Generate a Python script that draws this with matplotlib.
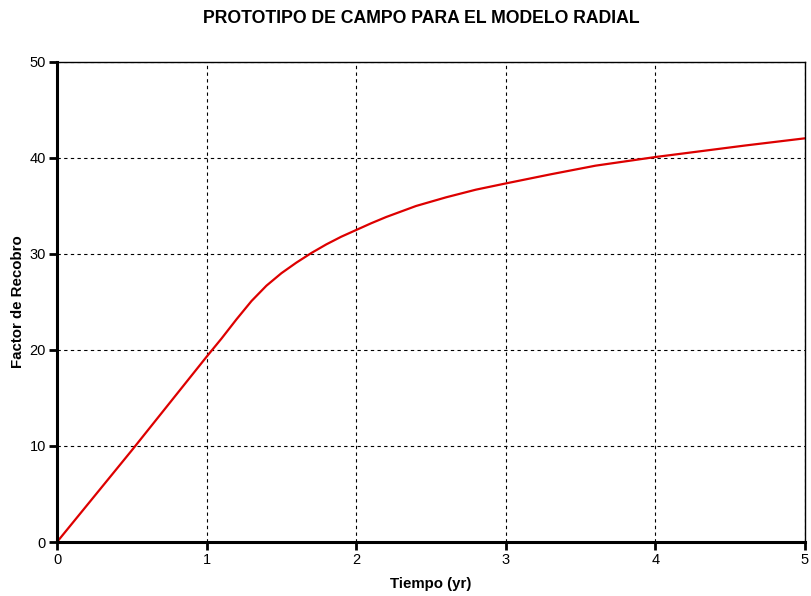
import matplotlib
matplotlib.use('Agg')
import matplotlib.pyplot as plt

plt.rcParams['font.family'] = ['Liberation Sans', 'DejaVu Sans']

# recovery factor vs time
tiempo = [0, 0.5, 1.0, 1.1, 1.2, 1.3, 1.4, 1.5, 1.6, 1.7, 1.8, 1.9, 2.0,
          2.1, 2.2, 2.4, 2.6, 2.8, 3.0, 3.3, 3.6, 4.0, 4.3, 4.6, 5.0]
recobro = [0, 9.55, 19.3, 21.2, 23.2, 25.1, 26.7, 28.0, 29.1, 30.1, 31.0,
           31.8, 32.5, 33.2, 33.85, 35.0, 35.9, 36.7, 37.35, 38.3, 39.2,
           40.1, 40.7, 41.3, 42.05]

xticks = [0, 1, 2, 3, 4, 5]
yticks = [0, 10, 20, 30, 40, 50]

fig = plt.figure(figsize=(8.11, 5.96), dpi=100)
ax = fig.add_axes([0.0703, 0.0906, 0.9223, 0.8054])

ax.plot(tiempo, recobro, color='#dd0000', lw=1.6)

ax.set_xlim(0, 5)
ax.set_ylim(0, 50)
ax.set_xticks(xticks)
ax.set_yticks(yticks)
ax.grid(True, color='black', linestyle=(0, (3, 3)), lw=0.8)

# thick left/bottom axis, thin frame on top/right
for s in ['left', 'bottom']:
    ax.spines[s].set_linewidth(2.2)
for s in ['top', 'right']:
    ax.spines[s].set_linewidth(1.0)

ax.tick_params(direction='out', length=6, width=2, labelsize=10.5, pad=2)

ax.set_xlabel('Tiempo (yr)', fontsize=10.8, fontweight='bold', labelpad=7)
ax.set_ylabel('Factor de Recobro', fontsize=10.8, fontweight='bold', labelpad=3)
fig.suptitle('PROTOTIPO DE CAMPO PARA EL MODELO RADIAL', fontsize=12.7,
             fontweight='bold', x=0.52, y=0.983, va='top')

fig.savefig('out.png', dpi=100)
